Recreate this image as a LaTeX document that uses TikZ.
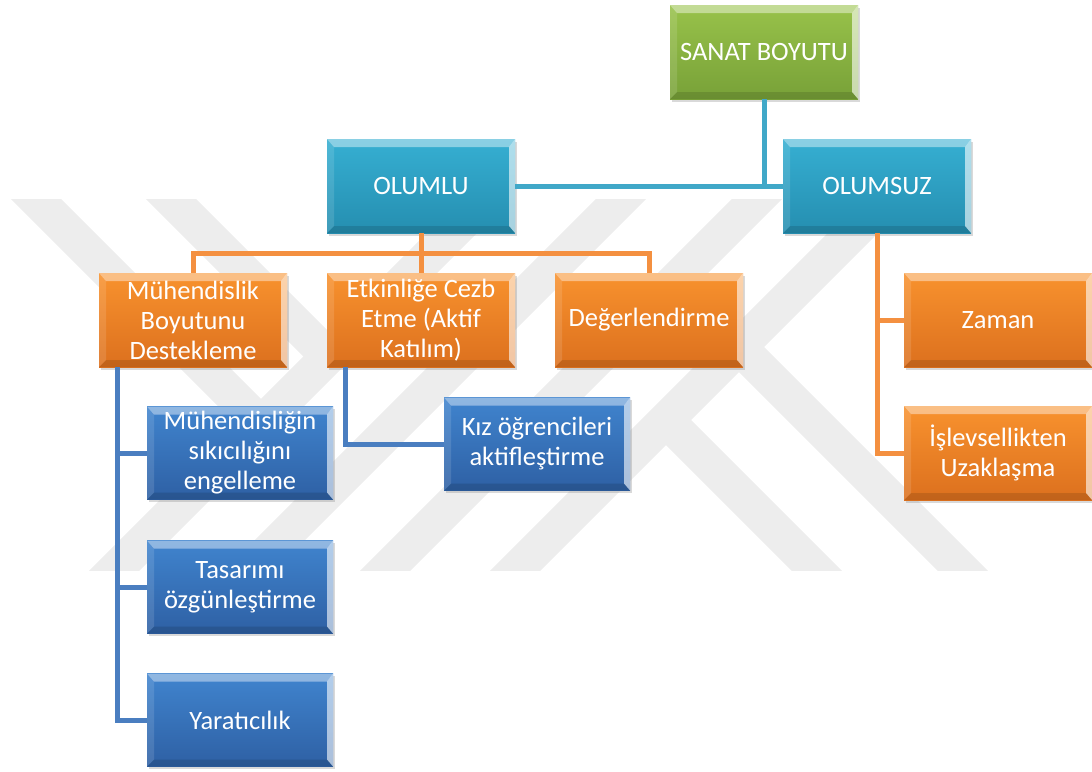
\documentclass[tikz,border=0pt]{standalone}
\usepackage{fontspec}
\newfontfamily\boxfont{Carlito}
\usetikzlibrary{shadows}

\definecolor{wm}{HTML}{EDEDED}
\definecolor{gA}{HTML}{98C24A}\definecolor{gB}{HTML}{78A138}
\definecolor{tA}{HTML}{36AFD2}\definecolor{tB}{HTML}{258EB0}
\definecolor{oA}{HTML}{F8922E}\definecolor{oB}{HTML}{DC701E}
\definecolor{bA}{HTML}{4084CE}\definecolor{bB}{HTML}{2E60A4}
\definecolor{lnTeal}{HTML}{40A8C8}
\definecolor{lnOrange}{HTML}{F49040}
\definecolor{lnBlue}{HTML}{4A7EC0}

% bevelled edges of a box: light top and right rims, darker bottom rim
\newcommand\bevelfx{%
  \fill[white,opacity=.42]
    (path picture bounding box.north west) -- (path picture bounding box.north east)
    -- ([xshift=-6pt,yshift=-8pt]path picture bounding box.north east)
    -- ([xshift=7pt,yshift=-8pt]path picture bounding box.north west) -- cycle;
  \fill[white,opacity=.6]
    (path picture bounding box.north east) -- (path picture bounding box.south east)
    -- ([xshift=-6pt,yshift=7pt]path picture bounding box.south east)
    -- ([xshift=-6pt,yshift=-8pt]path picture bounding box.north east) -- cycle;
  \fill[black,opacity=.12]
    (path picture bounding box.south west) -- (path picture bounding box.south east)
    -- ([xshift=-6pt,yshift=7pt]path picture bounding box.south east)
    -- ([xshift=7pt,yshift=7pt]path picture bounding box.south west) -- cycle;
  \fill[white,opacity=.12]
    (path picture bounding box.north west) -- (path picture bounding box.south west)
    -- ([xshift=7pt,yshift=7pt]path picture bounding box.south west)
    -- ([xshift=7pt,yshift=-8pt]path picture bounding box.north west) -- cycle;
}

\tikzset{
  box/.style={rectangle, minimum width=188pt, minimum height=94pt, inner sep=2pt,
    align=center, text=white, font=\boxfont\fontsize{26.5}{30}\selectfont,
    drop shadow={shadow xshift=1.5pt, shadow yshift=-2.5pt, opacity=.3},
    path picture={\bevelfx}},
  greenbox/.style={box, top color=gA, bottom color=gB},
  tealbox/.style={box, top color=tA, bottom color=tB},
  orangebox/.style={box, top color=oA, bottom color=oB},
  bluebox/.style={box, top color=bA, bottom color=bB, minimum width=186pt, minimum height=93pt},
  tealln/.style={draw=lnTeal, line width=5pt},
  orangeln/.style={draw=lnOrange, line width=5pt},
  blueln/.style={draw=lnBlue, line width=5pt},
  wmband/.style={draw=wm, line width=35.4pt},
}

\begin{document}
\begin{tikzpicture}[x=1pt, y=-1pt]
\useasboundingbox (0,0) rectangle (1092,771);

% faint background emblem made of diagonal bands
\begin{scope}
  \clip (0,199) rectangle (1092,570);
  \draw[wmband] (85,600) -- (516,169);
  \draw[wmband] (220,600) -- (651,169);
  \draw[wmband] (356,600) -- (787,169);
  \draw[wmband] (486,600) -- (917,169);
  \draw[wmband] (6,169) -- (261,424);
  \draw[wmband] (141,169) -- (328.5,356.5);
  \draw[wmband] (666,420) -- (846,600);
  \draw[wmband] (739,347) -- (992,600);
\end{scope}

% boxes
\node[greenbox]  (sanat)   at (764,52)  {SANAT BOYUTU};
\node[tealbox]   (olumlu)  at (421,186) {OLUMLU};
\node[tealbox]   (olumsuz) at (877,186) {OLUMSUZ};
\node[orangebox] (muh)     at (193,320) {Mühendislik\\Boyutunu\\Destekleme};
\node[orangebox] (etk)     at (421,320) {Etkinliğe Cezb\\Etme (Aktif\\Katılım)};
\node[orangebox] (deg)     at (649,320) {Değerlendirme};
\node[orangebox] (zaman)   at (998,320) {Zaman};
\node[orangebox] (isl)     at (998,453) {İşlevsellikten\\Uzaklaşma};
\node[bluebox]   (muhsik)  at (240,453) {Mühendisliğin\\sıkıcılığını\\engelleme};
\node[bluebox]   (tas)     at (240,587) {Tasarımı\\özgünleştirme};
\node[bluebox]   (yar)     at (240,720) {Yaratıcılık};
\node[bluebox]   (kiz)     at (537,444) {Kız öğrencileri\\aktifleştirme};

% connectors
\coordinate (obus) at (421,253);
\coordinate (mtrunk) at ([xshift=19pt]muh.south west);
\coordinate (etrunk) at ([xshift=19pt]etk.south west);

\draw[tealln] (sanat.south) -- (sanat.south |- olumlu.east);
\draw[tealln] (olumlu.east) -- (olumsuz.west);

\draw[orangeln] (olumlu.south) -- (etk.north);
\draw[orangeln] (muh.north) -- (muh.north |- obus) -| (deg.north);
\draw[orangeln] (olumsuz.south) |- (isl.west);
\draw[orangeln] (olumsuz.south |- zaman.west) -- (zaman.west);

\draw[blueln] (mtrunk) |- (yar.west);
\draw[blueln] (mtrunk |- muhsik.west) -- (muhsik.west);
\draw[blueln] (mtrunk |- tas.west) -- (tas.west);
\draw[blueln] (etrunk) |- (kiz.west);
\end{tikzpicture}
\end{document}
